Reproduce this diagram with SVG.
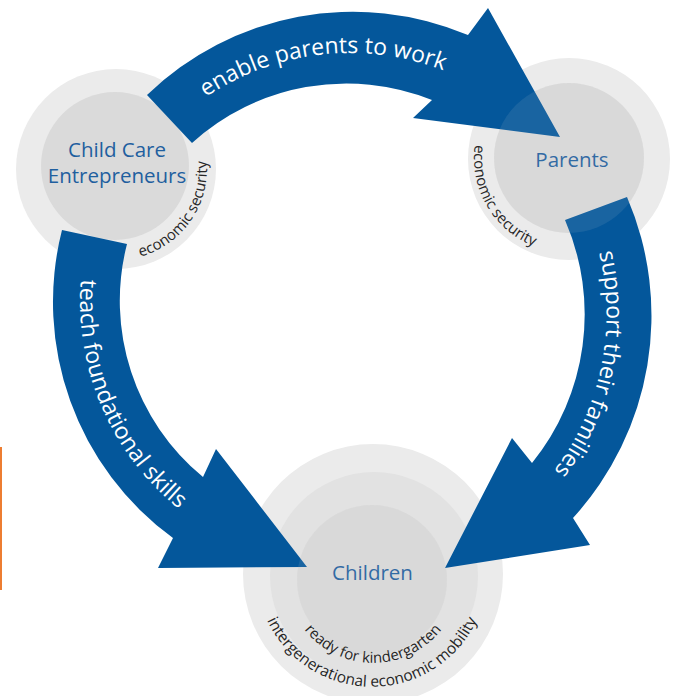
<svg xmlns="http://www.w3.org/2000/svg" width="678" height="696" viewBox="0 0 678 696">
<style>
.ring-outer{fill:#ebebeb}
.ring-mid{fill:#e2e2e2}
.ring-inner{fill:#dadada}
.tint{fill:#d9d9d9;fill-opacity:0.1}
.arrow{fill:#04579b}
.lbl{font-family:"Open Sans","Liberation Sans",sans-serif;font-size:20.5px;fill:#1f5f9f;text-anchor:middle}
.arc-lbl{font-family:"Open Sans","Liberation Sans",sans-serif;font-size:23px;fill:#ffffff;text-anchor:middle}
.sub{font-family:"Open Sans","Liberation Sans",sans-serif;font-size:15px;fill:#262626}
</style>
<defs>
<path id="p-cc-sec" d="M140.3,256.7 A91,91 0 0 0 194.8,123.5"/>
<path id="p-par-sec" d="M474.9,144.8 A95,95 0 0 0 569,253"/>
<path id="p-ready" d="M297.7,619.5 A87,87 0 0 0 448.3,619.5"/>
<path id="p-inter" d="M258.8,596.1 A116,116 0 0 0 485.2,596.1"/>
<path id="p-a1" d="M135.9,167.8 A257,257 0 0 1 527.2,123.9"/>
<path id="p-a2" d="M551.5,155.5 A258,258 0 0 1 472,541.2"/>
<path id="p-a3" d="M108.8,181.7 A266,266 0 0 0 268.7,556.5"/>
</defs>
<rect width="678" height="696" fill="#ffffff"/>
<rect x="0" y="447" width="2" height="143" fill="#ed7d31"/>

<g id="node-childcare">
<circle class="ring-outer" cx="116" cy="169" r="100"/>
<circle class="ring-inner" cx="115" cy="166" r="74"/>
<text class="lbl" x="117" y="157">Child Care</text>
<text class="lbl" x="117" y="183">Entrepreneurs</text>
<text class="sub"><textPath href="#p-cc-sec">economic security</textPath></text>
</g>

<g id="node-parents">
<circle class="ring-outer" cx="569" cy="159" r="101"/>
<circle class="ring-inner" cx="569" cy="158" r="75"/>
<text class="lbl" x="572" y="167">Parents</text>
<text class="sub"><textPath href="#p-par-sec">economic security</textPath></text>
</g>

<g id="node-children">
<circle class="ring-outer" cx="373" cy="574" r="130"/>
<circle class="ring-mid" cx="374" cy="576" r="104"/>
<circle class="ring-inner" cx="372" cy="580" r="75"/>
<text class="lbl" x="372.5" y="580">Children</text>
<text class="sub" text-anchor="middle"><textPath href="#p-ready" startOffset="50%">ready for kindergarten</textPath></text>
<text class="sub" text-anchor="middle" style="font-size:15.5px"><textPath href="#p-inter" startOffset="50%">intergenerational economic mobility</textPath></text>
</g>

<g id="connectors">
<path id="arrow-enable" class="arrow" d="M147,95 A296,296 0 0 1 468,35 L488,8 L560,137 L413,118 L432,100 A230,230 0 0 0 192,143 Z"/>
<path id="arrow-support" class="arrow" d="M627,197 A300,300 0 0 1 573,518 L590,545 L445,568 L512,438 L532,463 A236,236 0 0 0 565,220 Z"/>
<path id="arrow-teach" class="arrow" d="M62,230 A292,292 0 0 0 173,538 L158,568 L307,567 L216,449 L203,477 A228,228 0 0 1 127,244 Z"/>
<text class="arc-lbl"><textPath href="#p-a1" startOffset="50%">enable parents to work</textPath></text>
<text class="arc-lbl"><textPath href="#p-a2" startOffset="50%">support their families</textPath></text>
<text class="arc-lbl"><textPath href="#p-a3" startOffset="50%">teach foundational skills</textPath></text>
</g>

<g id="tints">
<circle class="tint" cx="569" cy="158" r="75"/>
<circle class="tint" cx="372" cy="580" r="75"/>
</g>
</svg>
